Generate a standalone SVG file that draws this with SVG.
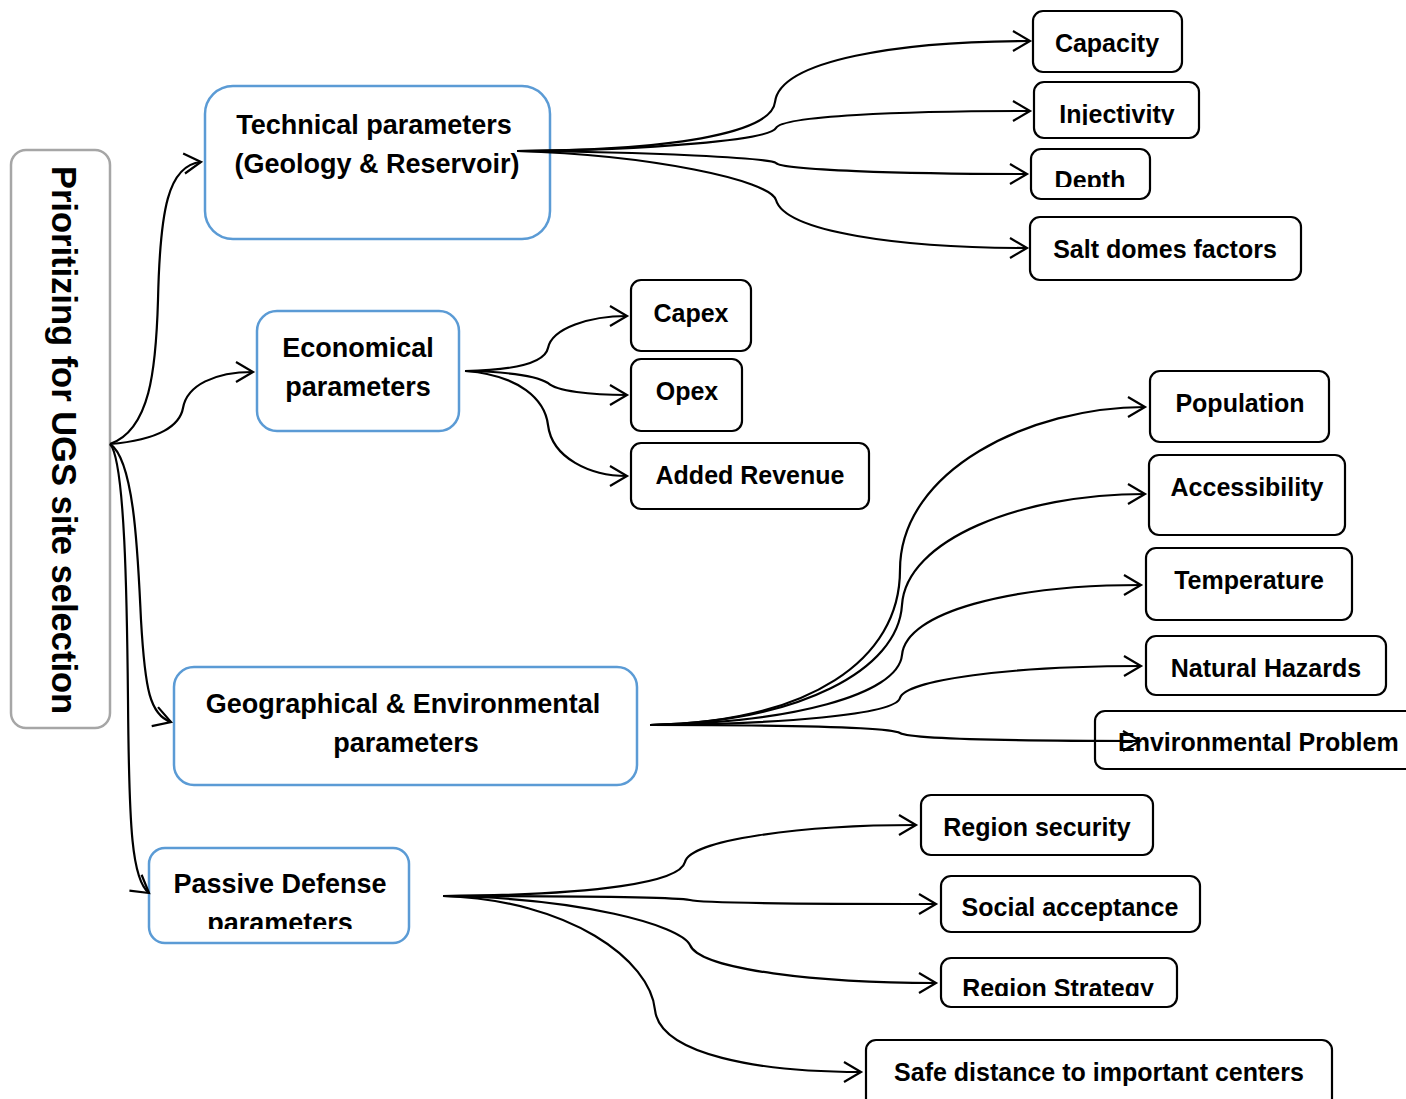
<svg xmlns="http://www.w3.org/2000/svg" width="1406" height="1099" viewBox="0 0 1406 1099">
<style>
.mainbox{fill:#fff;stroke:#5b9bd5;stroke-width:2.5}
.leaf{fill:#fff;stroke:#000;stroke-width:2.2}
.root{fill:#fff;stroke:#a6a6a6;stroke-width:2.5}
.t{font-family:"Liberation Sans",Arial,sans-serif;font-weight:bold;fill:#000;text-anchor:middle}
.tm{font-size:27px}
.tl{font-size:25px}
.conn path{fill:none;stroke:#000;stroke-width:2.2;marker-end:url(#arr)}
</style>
<defs>
<marker id="arr" markerUnits="userSpaceOnUse" markerWidth="22" markerHeight="24" viewBox="0 0 22 24" refX="19" refY="12" orient="auto">
<path d="M2,2 L19,12 L2,22" fill="none" stroke="#000" stroke-width="2.2"/>
</marker>
<clipPath id="cInj"><rect x="1034" y="82" width="165" height="43"/></clipPath>
<clipPath id="cDep"><rect x="1031" y="149" width="119" height="38"/></clipPath>
<clipPath id="cRS"><rect x="941" y="958" width="236" height="38"/></clipPath>
<clipPath id="cPD"><rect x="149" y="848" width="260" height="81"/></clipPath>
</defs>
<rect width="1406" height="1099" fill="#fff"/>

<g id="root">
<rect class="root" x="11" y="150" width="99" height="578" rx="15"/>
<text class="t" font-size="34.5" transform="translate(52,440) rotate(90)">Prioritizing for UGS site selection</text>
</g>

<g id="technical">
<rect class="mainbox" x="205" y="86" width="345" height="153" rx="28"/>
<text class="t tm" x="374" y="134">Technical parameters</text>
<text class="t tm" x="377" y="173">(Geology &amp; Reservoir)</text>
</g>
<g id="economical">
<rect class="mainbox" x="257" y="311" width="202" height="120" rx="20"/>
<text class="t tm" x="358" y="357">Economical</text>
<text class="t tm" x="358" y="396">parameters</text>
</g>
<g id="geographical">
<rect class="mainbox" x="174" y="667" width="463" height="118" rx="20"/>
<text class="t tm" x="403" y="713">Geographical &amp; Environmental</text>
<text class="t tm" x="406" y="752">parameters</text>
</g>
<g id="passive">
<rect class="mainbox" x="149" y="848" width="260" height="95" rx="16"/>
<text class="t tm" x="280" y="893">Passive Defense</text>
<text class="t tm" x="280" y="932" clip-path="url(#cPD)">parameters</text>
</g>

<g id="capacity"><rect class="leaf" x="1033" y="11" width="149" height="61" rx="10"/><text class="t tl" x="1107" y="52">Capacity</text></g>
<g id="injectivity"><rect class="leaf" x="1034" y="82" width="165" height="56" rx="10"/><text class="t tl" x="1117" y="123" clip-path="url(#cInj)">Injectivity</text></g>
<g id="depth"><rect class="leaf" x="1031" y="149" width="119" height="50" rx="10"/><text class="t tl" x="1090" y="189" clip-path="url(#cDep)">Depth</text></g>
<g id="salt"><rect class="leaf" x="1030" y="217" width="271" height="63" rx="10"/><text class="t tl" x="1165" y="258">Salt domes factors</text></g>

<g id="capex"><rect class="leaf" x="631" y="280" width="120" height="71" rx="10"/><text class="t tl" x="691" y="322">Capex</text></g>
<g id="opex"><rect class="leaf" x="631" y="359" width="111" height="72" rx="10"/><text class="t tl" x="687" y="400">Opex</text></g>
<g id="revenue"><rect class="leaf" x="631" y="443" width="238" height="66" rx="10"/><text class="t tl" x="750" y="484">Added Revenue</text></g>

<g id="population"><rect class="leaf" x="1150" y="371" width="179" height="71" rx="10"/><text class="t tl" x="1240" y="412">Population</text></g>
<g id="accessibility"><rect class="leaf" x="1149" y="455" width="196" height="80" rx="10"/><text class="t tl" x="1247" y="496">Accessibility</text></g>
<g id="temperature"><rect class="leaf" x="1146" y="548" width="206" height="72" rx="10"/><text class="t tl" x="1249" y="589">Temperature</text></g>
<g id="hazards"><rect class="leaf" x="1146" y="636" width="240" height="59" rx="10"/><text class="t tl" x="1266" y="677">Natural Hazards</text></g>
<g id="envproblem"><rect class="leaf" x="1095" y="711" width="330" height="58" rx="10"/><text class="t tl" x="1118" y="751" style="text-anchor:start">Environmental Problem</text></g>

<g id="security"><rect class="leaf" x="921" y="795" width="232" height="60" rx="10"/><text class="t tl" x="1037" y="836">Region security</text></g>
<g id="social"><rect class="leaf" x="941" y="876" width="259" height="56" rx="10"/><text class="t tl" x="1070" y="916">Social acceptance</text></g>
<g id="strategy"><rect class="leaf" x="941" y="958" width="236" height="49" rx="10"/><text class="t tl" x="1058" y="997" clip-path="url(#cRS)">Region Strategy</text></g>
<g id="safe"><rect class="leaf" x="866" y="1040" width="466" height="70" rx="10"/><text class="t tl" x="1099" y="1081">Safe distance to important centers</text></g>

<g class="conn" id="connectors">
<path d="M110,444 C150,430 156,370 158,300 C160,210 168,165 201,162"/>
<path d="M110,444 C160,440 180,425 183,408 C187,385 215,372 253,372"/>
<path d="M110,444 C135,460 138,560 141,620 C145,690 150,715 171,722"/>
<path d="M110,444 C125,460 127,600 128,700 C129,830 132,880 149,893"/>

<path d="M517,151 C690,150 772,130 775,102 C780,60 900,41 1030,41"/>
<path d="M517,151 C650,150 770,140 776,128 C782,116 900,111 1030,111"/>
<path d="M517,151 C650,152 770,158 776,163 C782,170 900,174 1027,174"/>
<path d="M517,151 C650,155 770,180 776,200 C785,232 900,248 1027,248"/>

<path d="M465,371 C520,370 545,362 548,348 C552,328 590,316 627,316"/>
<path d="M465,371 C520,372 540,378 548,383 C556,391 590,395 627,395"/>
<path d="M465,371 C520,375 545,400 548,425 C552,458 590,476 627,476"/>

<path d="M650,725 C810,722 900,660 900,570 C900,470 1030,407 1145,407"/>
<path d="M650,725 C800,722 898,670 902,605 C906,540 1020,494 1145,494"/>
<path d="M650,725 C790,723 898,695 902,655 C906,612 1010,585 1141,585"/>
<path d="M650,725 C780,724 895,715 900,698 C905,680 1010,666 1141,666"/>
<path d="M650,725 C800,725 890,727 900,733 C910,739 1020,741 1140,741"/>

<path d="M443,896 C600,895 680,882 685,862 C690,840 800,825 916,825"/>
<path d="M443,896 C600,896 680,898 690,900 C700,903 820,904 936,904"/>
<path d="M443,896 C580,898 680,925 690,945 C700,970 820,983 936,983"/>
<path d="M443,896 C570,900 650,960 655,1010 C660,1055 760,1072 861,1072"/>
</g>
</svg>
